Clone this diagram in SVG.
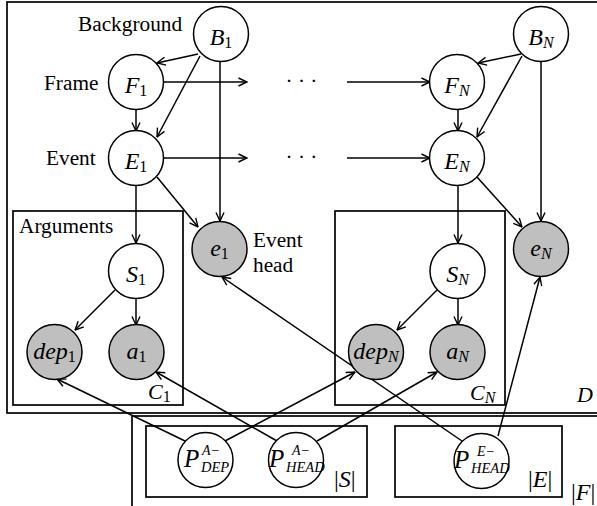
<svg xmlns="http://www.w3.org/2000/svg" width="597" height="506" viewBox="0 0 597 506">
<defs>
<marker id="arr" viewBox="0 0 10 10" refX="9.5" refY="5" markerWidth="10" markerHeight="10" markerUnits="userSpaceOnUse" orient="auto">
<path d="M1,1 L9.5,5 L1,9" fill="none" stroke="#000" stroke-width="1.4"/>
</marker>
</defs>
<style>
.box{fill:none;stroke:#000;stroke-width:1.7}
.n circle{stroke:#000;stroke-width:1.5;fill:#fff}
.o circle{fill:#bfbfbf}
.lbl{font-family:"Liberation Serif","Times New Roman",serif;font-size:21.3px}
.m{font-family:"Liberation Serif","Times New Roman",serif;font-style:italic;font-size:24px}
.s{font-size:16px}
.d{font-style:normal}
.pp{font-family:"Liberation Serif","Times New Roman",serif;font-style:italic;font-size:25px}
.ps{font-size:14px}
.pb{font-size:14.5px}
.edges line{stroke:#000;stroke-width:1.5;marker-end:url(#arr)}
</style>
<rect width="597" height="506" fill="#fff"/>
<g id="plates">
<rect id="plate-D" class="box" x="7" y="2" width="600" height="411"/>
<rect id="plate-F" class="box" x="132" y="416" width="480" height="100"/>
<rect id="plate-C1" class="box" x="13" y="211" width="170" height="194"/>
<rect id="plate-CN" class="box" x="335" y="211" width="170" height="194"/>
<rect id="plate-S" class="box" x="146" y="426" width="221" height="71"/>
<rect id="plate-E" class="box" x="395" y="426" width="167" height="71"/>
</g>
<g id="labels" class="lbl">
<text x="78" y="31">Background</text>
<text x="44" y="90">Frame</text>
<text x="46" y="165">Event</text>
<text x="19" y="233">Arguments</text>
<text x="253" y="247">Event</text>
<text x="253" y="272">head</text>
<text x="301.5" y="88" text-anchor="middle">· · ·</text>
<text x="301.5" y="164" text-anchor="middle">· · ·</text>
</g>
<g id="plate-labels" class="m" style="font-size:22px">
<text x="148" y="399">C<tspan class="s d" dy="3">1</tspan></text>
<text x="470" y="400">C<tspan class="s" dy="3">N</tspan></text>
<text x="577" y="402">D</text>
<text x="334" y="487" style="font-size:24px"><tspan class="d">|</tspan>S<tspan class="d">|</tspan></text>
<text x="528" y="487" style="font-size:24px"><tspan class="d">|</tspan>E<tspan class="d">|</tspan></text>
<text x="571" y="500" style="font-size:24px"><tspan class="d">|</tspan>F<tspan class="d">|</tspan></text>
</g>
<g id="edges" class="edges">
<line x1="198" y1="54" x2="157" y2="63"/>
<line x1="200" y1="56" x2="157" y2="137"/>
<line x1="220" y1="62" x2="220" y2="221"/>
<line x1="163" y1="82" x2="247" y2="82"/>
<line x1="163" y1="158" x2="247" y2="158"/>
<line x1="136" y1="109" x2="136" y2="131"/>
<line x1="136" y1="186" x2="136" y2="243"/>
<line x1="157" y1="177" x2="198" y2="227"/>
<line x1="115" y1="290" x2="75" y2="330"/>
<line x1="136" y1="298" x2="136" y2="325"/>
<line x1="347" y1="82" x2="430" y2="82"/>
<line x1="347" y1="158" x2="430" y2="158"/>
<line x1="521" y1="54" x2="478" y2="63"/>
<line x1="522" y1="56" x2="477" y2="137"/>
<line x1="541" y1="62" x2="541" y2="221"/>
<line x1="458" y1="109" x2="458" y2="131"/>
<line x1="458" y1="186" x2="458" y2="243"/>
<line x1="477" y1="177" x2="522" y2="227"/>
<line x1="437" y1="290" x2="397" y2="330"/>
<line x1="458" y1="298" x2="458" y2="325"/>
<line x1="185" y1="441" x2="57" y2="379"/>
<line x1="277" y1="441" x2="156" y2="372"/>
<line x1="225" y1="441" x2="355" y2="372"/>
<line x1="317" y1="441" x2="437" y2="372"/>
<line x1="462" y1="441" x2="222" y2="277"/>
<line x1="498" y1="436" x2="540" y2="277"/>
</g>
<g id="B1" class="n"><circle cx="221" cy="34" r="27.5"/><text class="m" x="221" y="45" text-anchor="middle">B<tspan class="s d" dy="3">1</tspan></text></g>
<g id="F1" class="n"><circle cx="136" cy="82" r="27.5"/><text class="m" x="136" y="93" text-anchor="middle">F<tspan class="s d" dy="3">1</tspan></text></g>
<g id="E1" class="n"><circle cx="136" cy="158" r="27.5"/><text class="m" x="136" y="169" text-anchor="middle">E<tspan class="s d" dy="3">1</tspan></text></g>
<g id="e1" class="n o"><circle cx="219.5" cy="249" r="27.5"/><text class="m" x="219.5" y="256" text-anchor="middle">e<tspan class="s d" dy="3">1</tspan></text></g>
<g id="S1" class="n"><circle cx="136" cy="271" r="27.5"/><text class="m" x="136" y="282" text-anchor="middle">S<tspan class="s d" dy="3">1</tspan></text></g>
<g id="dep1" class="n o"><circle cx="54.5" cy="352" r="27.5"/><text class="m" x="54.5" y="359" text-anchor="middle">dep<tspan class="s d" dy="3">1</tspan></text></g>
<g id="a1" class="n o"><circle cx="136.5" cy="352" r="27.5"/><text class="m" x="136.5" y="359" text-anchor="middle">a<tspan class="s d" dy="3">1</tspan></text></g>
<g id="BN" class="n"><circle cx="541" cy="34" r="27.5"/><text class="m" x="541" y="45" text-anchor="middle">B<tspan class="s" dy="3">N</tspan></text></g>
<g id="FN" class="n"><circle cx="457" cy="82" r="27.5"/><text class="m" x="457" y="93" text-anchor="middle">F<tspan class="s" dy="3">N</tspan></text></g>
<g id="EN" class="n"><circle cx="457" cy="158" r="27.5"/><text class="m" x="457" y="169" text-anchor="middle">E<tspan class="s" dy="3">N</tspan></text></g>
<g id="eN" class="n o"><circle cx="541" cy="249" r="27.5"/><text class="m" x="541" y="256" text-anchor="middle">e<tspan class="s" dy="3">N</tspan></text></g>
<g id="SN" class="n"><circle cx="457.5" cy="271" r="27.5"/><text class="m" x="457.5" y="282" text-anchor="middle">S<tspan class="s" dy="3">N</tspan></text></g>
<g id="depN" class="n o"><circle cx="376" cy="352" r="27.5"/><text class="m" x="376" y="359" text-anchor="middle">dep<tspan class="s" dy="3">N</tspan></text></g>
<g id="aN" class="n o"><circle cx="457.5" cy="352" r="27.5"/><text class="m" x="457.5" y="359" text-anchor="middle">a<tspan class="s" dy="3">N</tspan></text></g>
<g id="P-A-DEP" class="n"><circle cx="205.5" cy="460" r="27.5"/><text class="pp"><tspan x="184" y="467">P</tspan><tspan class="ps" x="202" y="455">A−</tspan><tspan class="pb" x="201" y="472">DEP</tspan></text></g>
<g id="P-A-HEAD" class="n"><circle cx="296" cy="460" r="27.5"/><text class="pp"><tspan x="269" y="467">P</tspan><tspan class="ps" x="292" y="455">A−</tspan><tspan class="pb" x="286" y="472">HEAD</tspan></text></g>
<g id="P-E-HEAD" class="n"><circle cx="481.5" cy="461" r="27.5"/><text class="pp"><tspan x="454" y="468">P</tspan><tspan class="ps" x="477" y="456">E−</tspan><tspan class="pb" x="471" y="473">HEAD</tspan></text></g>
</svg>
